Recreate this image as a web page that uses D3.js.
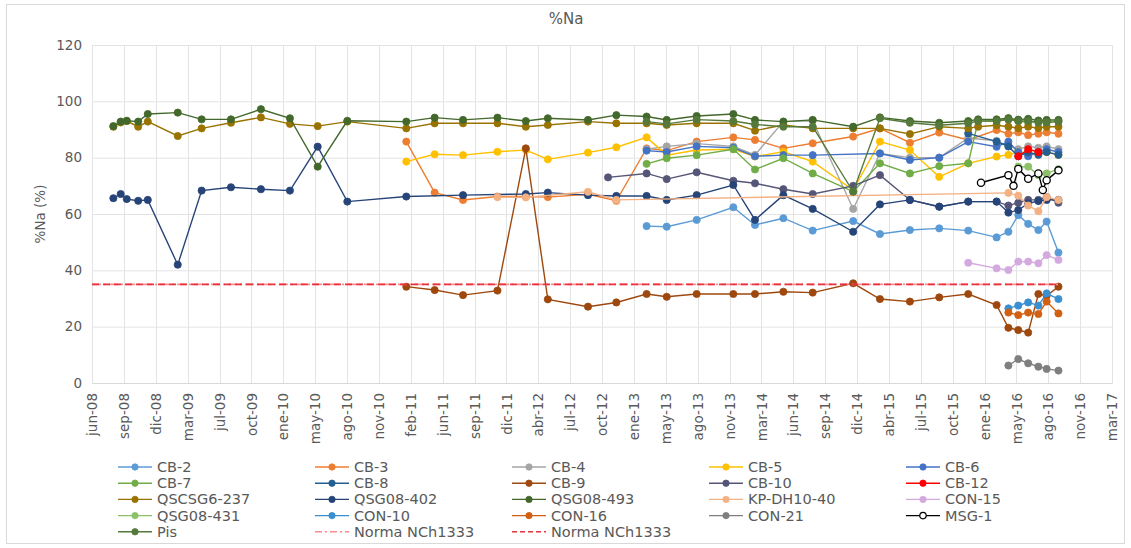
<!DOCTYPE html>
<html><head><meta charset="utf-8">
<script src="https://cdn.jsdelivr.net/npm/d3@7"></script>
<style>body{margin:0;background:#fff}svg{display:block}text{font-family:"DejaVu Sans","Liberation Sans",Arial,sans-serif;fill:#595959}</style>
</head><body><svg id="c" width="1131" height="548"></svg>
<script>
// ---------- DATA ----------
const tickLabels = ["jun-08","sep-08","dic-08","mar-09","jul-09","oct-09","ene-10","may-10","ago-10","nov-10","feb-11","jun-11","sep-11","dic-11","abr-12","jul-12","oct-12","ene-13","may-13","ago-13","nov-13","mar-14","jun-14","sep-14","dic-14","abr-15","jul-15","oct-15","ene-16","may-16","ago-16","nov-16","mar-17"];
const yTicks = [0,20,40,60,80,100,120];

const CB2 = [["2013-03-07",55.7],["2013-05-09",55.5],["2013-08-11",57.9],["2013-12-04",62.4],["2014-02-10",56.1],["2014-05-10",58.5],["2014-08-10",54.1],["2014-12-15",57.5],["2015-03-09",52.9],["2015-06-11",54.3],["2015-09-11",54.9],["2015-12-11",54.1],["2016-03-09",51.7],["2016-04-15",53.7],["2016-05-16",59.6],["2016-06-16",56.5],["2016-07-18",54.3],["2016-08-13",57.3],["2016-09-19",46.3]];
const CB3 = [["2011-02-12",85.7],["2011-05-12",67.6],["2011-08-09",65.0],["2011-11-25",66.2],["2012-02-22",66.2],["2012-05-01",66.0],["2012-09-04",67.0],["2012-12-02",64.7],["2013-03-07",83.3],["2013-05-09",82.5],["2013-08-11",85.7],["2013-12-04",87.2],["2014-02-10",86.3],["2014-05-10",83.3],["2014-08-10",85.1],["2014-12-15",87.5],["2015-03-09",90.4],["2015-06-11",85.3],["2015-09-11",88.9],["2015-12-11",86.3],["2016-03-09",89.8],["2016-04-15",88.5],["2016-05-16",89.0],["2016-06-16",88.0],["2016-07-18",88.5],["2016-08-13",89.0],["2016-09-19",88.5]];
const CB4 = [["2013-03-07",83.0],["2013-05-09",84.0],["2013-08-11",85.0],["2013-12-04",84.0],["2014-02-10",81.0],["2014-05-10",92.8],["2014-08-10",93.1],["2014-12-15",61.8],["2015-03-09",81.5],["2015-06-11",80.0],["2015-09-11",80.0],["2015-12-11",87.0],["2016-03-09",86.0],["2016-04-15",84.0],["2016-05-16",83.0],["2016-06-16",84.0],["2016-07-18",83.5],["2016-08-13",84.0],["2016-09-19",83.0]];
const CB5 = [["2011-02-12",78.6],["2011-05-12",81.2],["2011-08-09",80.9],["2011-11-25",82.1],["2012-02-22",82.7],["2012-05-01",79.4],["2012-09-04",81.8],["2012-12-02",83.7],["2013-03-07",87.2],["2013-05-09",80.9],["2013-08-11",82.7],["2013-12-04",83.0],["2014-02-10",80.4],["2014-05-10",82.1],["2014-08-10",78.6],["2014-12-15",68.5],["2015-03-09",85.7],["2015-06-11",82.7],["2015-09-11",73.2],["2015-12-11",78.0],["2016-03-09",80.4],["2016-04-15",81.0],["2016-05-16",82.0],["2016-06-16",81.0],["2016-07-18",81.5],["2016-08-13",82.0],["2016-09-19",81.0]];
const CB6 = [["2013-03-07",82.5],["2013-05-09",82.0],["2013-08-11",84.0],["2013-12-04",83.5],["2014-02-10",80.5],["2014-05-10",80.9],["2014-08-10",80.9],["2015-03-09",81.5],["2015-06-11",79.2],["2015-09-11",80.0],["2015-12-11",85.7],["2016-03-09",83.9],["2016-04-15",85.7],["2016-05-16",82.0],["2016-06-16",80.5],["2016-07-18",82.0],["2016-08-13",83.0],["2016-09-19",82.0]];
const CB7 = [["2013-03-07",77.8],["2013-05-09",79.8],["2013-08-11",80.9],["2013-12-04",83.0],["2014-02-10",75.8],["2014-05-10",79.8],["2014-08-10",74.4],["2014-12-15",67.9],["2015-03-09",78.0],["2015-06-11",74.4],["2015-09-11",77.0],["2015-12-11",78.0],["2016-01-11",93.0],["2016-03-09",93.0],["2016-04-15",94.0],["2016-05-16",93.0],["2016-06-16",92.5],["2016-07-18",93.0],["2016-08-13",93.0],["2016-09-19",93.0]];
const CB8 = [["2015-12-11",88.6],["2016-03-09",85.7],["2016-04-15",84.0],["2016-05-16",80.5],["2016-06-16",82.0],["2016-07-18",81.0],["2016-08-13",82.0],["2016-09-19",81.0]];
const CB9 = [["2011-02-12",34.2],["2011-05-12",33.0],["2011-08-09",31.2],["2011-11-25",32.8],["2012-02-22",83.3],["2012-05-01",29.7],["2012-09-04",27.1],["2012-12-02",28.6],["2013-03-07",31.6],["2013-05-09",30.6],["2013-08-11",31.6],["2013-12-04",31.6],["2014-02-10",31.6],["2014-05-10",32.4],["2014-08-10",32.1],["2014-12-15",35.4],["2015-03-09",29.8],["2015-06-11",28.9],["2015-09-11",30.4],["2015-12-11",31.6],["2016-03-09",27.7],["2016-04-15",19.6],["2016-05-16",18.8],["2016-06-16",17.9],["2016-07-18",31.6],["2016-08-13",31.0],["2016-09-19",34.2]];
const CB10 = [["2012-11-06",73.0],["2013-03-07",74.4],["2013-05-09",72.4],["2013-08-11",74.8],["2013-12-04",71.8],["2014-02-10",70.9],["2014-05-10",68.8],["2014-08-10",67.1],["2014-12-15",70.0],["2015-03-09",73.8],["2015-06-11",65.0],["2015-09-11",62.6],["2015-12-11",64.4],["2016-03-09",64.4],["2016-04-15",63.0],["2016-05-16",64.0],["2016-06-16",65.0],["2016-07-18",65.0],["2016-08-13",66.0],["2016-09-19",64.0]];
const CB12 = [["2016-05-16",80.5],["2016-06-16",83.0],["2016-07-18",82.0]];
const QSCSG6_237 = [["2008-08-07",91.0],["2008-08-30",92.5],["2008-09-18",93.0],["2008-10-24",91.0],["2008-11-23",92.8],["2009-02-25",87.7],["2009-05-11",90.4],["2009-08-11",92.4],["2009-11-13",94.3],["2010-02-12",92.0],["2010-05-10",91.2],["2010-08-11",92.8],["2011-02-12",90.4],["2011-05-12",92.2],["2011-08-09",92.2],["2011-11-25",92.2],["2012-02-22",91.0],["2012-05-01",91.6],["2012-09-04",92.8],["2012-12-02",92.2],["2013-03-07",92.2],["2013-05-09",91.6],["2013-08-11",92.2],["2013-12-04",92.2],["2014-02-10",89.6],["2014-05-10",91.6],["2014-08-10",90.4],["2014-12-15",90.4],["2015-03-09",90.4],["2015-06-11",88.4],["2015-09-11",91.0],["2015-12-11",90.4],["2016-01-11",91.0],["2016-03-09",91.5],["2016-04-15",91.0],["2016-05-16",90.5],["2016-06-16",91.0],["2016-07-18",90.5],["2016-08-13",91.0],["2016-09-19",91.0]];
const QSG08_402 = [["2008-08-07",65.6],["2008-08-30",67.1],["2008-09-18",65.3],["2008-10-24",64.7],["2008-11-23",65.0],["2009-02-25",42.0],["2009-05-11",68.3],["2009-08-11",69.5],["2009-11-13",68.8],["2010-02-12",68.3],["2010-05-10",83.9],["2010-08-11",64.4],["2011-02-12",66.2],["2011-08-09",66.7],["2012-02-22",67.1],["2012-05-01",67.6],["2012-09-04",66.7],["2012-12-02",66.4],["2013-03-07",66.4],["2013-05-09",65.0],["2013-08-11",66.7],["2013-12-04",70.3],["2014-02-10",57.9],["2014-05-10",66.7],["2014-08-10",61.8],["2014-12-15",53.7],["2015-03-09",63.4],["2015-06-11",65.0],["2015-09-11",62.6],["2015-12-11",64.4],["2016-03-09",64.4],["2016-04-15",60.5],["2016-05-16",61.4],["2016-06-16",63.8],["2016-07-18",64.6],["2016-08-13",65.0],["2016-09-19",65.0]];
const QSG08_493 = [["2008-08-07",91.2],["2008-08-30",92.8],["2008-09-18",93.1],["2008-10-24",92.8],["2008-11-23",95.5],["2009-02-25",96.0],["2009-05-11",93.6],["2009-08-11",93.6],["2009-11-13",97.2],["2010-02-12",94.0],["2010-05-10",76.8],["2010-08-11",93.1],["2011-02-12",92.8],["2011-05-12",94.2],["2011-08-09",93.4],["2011-11-25",94.2],["2012-02-22",93.0],["2012-05-01",94.0],["2012-09-04",93.4],["2012-12-02",95.1],["2013-03-07",94.6],["2013-05-09",93.4],["2013-08-11",94.8],["2013-12-04",95.5],["2014-02-10",93.4],["2014-05-10",92.8],["2014-08-10",93.4],["2014-12-15",91.0],["2015-03-09",94.3],["2015-06-11",93.0],["2015-09-11",92.4],["2015-12-11",93.0],["2016-01-11",93.6],["2016-03-09",93.6],["2016-04-15",94.0],["2016-05-16",93.5],["2016-06-16",93.8],["2016-07-18",93.2],["2016-08-13",93.4],["2016-09-19",93.4]];
const KP_DH10_40 = [["2011-11-25",66.0],["2012-02-22",65.9],["2012-09-04",67.9],["2012-12-02",65.0],["2016-04-15",67.5],["2016-05-16",66.5],["2016-06-16",63.0],["2016-07-18",61.0],["2016-08-13",66.0],["2016-09-19",65.0]];
const CON15 = [["2015-12-11",42.7],["2016-03-09",40.7],["2016-04-15",40.1],["2016-05-16",43.1],["2016-06-16",43.1],["2016-07-18",42.5],["2016-08-13",45.4],["2016-09-19",43.7]];
const QSG08_431 = [["2016-05-16",76.8],["2016-06-16",76.8],["2016-07-18",73.8],["2016-08-13",74.4],["2016-09-19",75.9]];
const CON10 = [["2016-04-15",26.5],["2016-05-16",27.5],["2016-06-16",28.6],["2016-07-18",27.5],["2016-08-13",31.8],["2016-09-19",29.8]];
const CON16 = [["2016-04-15",25.0],["2016-05-16",24.1],["2016-06-16",25.0],["2016-07-18",24.5],["2016-08-13",28.9],["2016-09-19",24.7]];
const CON21 = [["2016-04-15",6.2],["2016-05-16",8.5],["2016-06-16",7.0],["2016-07-18",5.8],["2016-08-13",5.0],["2016-09-19",4.4]];
const MSG1 = [["2016-01-20",71.1],["2016-04-15",73.8],["2016-05-01",70.0],["2016-05-16",76.0],["2016-06-16",72.5],["2016-07-18",74.4],["2016-08-01",68.5],["2016-08-13",72.0],["2016-09-19",75.5]];
const Pis = [["2013-03-07",92.8],["2013-05-09",92.0],["2013-08-11",93.5],["2013-12-04",93.0],["2014-02-10",91.8],["2014-05-10",91.0],["2014-08-10",91.0],["2014-12-15",67.9],["2015-03-09",94.0],["2015-06-11",92.4],["2015-09-11",91.5],["2015-12-11",92.2],["2016-01-11",93.0],["2016-03-09",93.0],["2016-04-15",93.5],["2016-05-16",93.0],["2016-06-16",93.0],["2016-07-18",92.5],["2016-08-13",92.5],["2016-09-19",92.8]];
const Norma1 = [["2008-06-01",35],["2016-09-19",35]];
const Norma2 = [["2008-06-01",35],["2016-09-19",35]];

// ---------- SERIES CONFIG (styles) ----------
const series = [
 {name:"CB-2",data:CB2,color:"#5B9BD5"},
 {name:"CB-3",data:CB3,color:"#ED7D31"},
 {name:"CB-4",data:CB4,color:"#A5A5A5"},
 {name:"CB-5",data:CB5,color:"#FFC000"},
 {name:"CB-6",data:CB6,color:"#4472C4"},
 {name:"CB-7",data:CB7,color:"#70AD47"},
 {name:"CB-8",data:CB8,color:"#255E91"},
 {name:"CB-9",data:CB9,color:"#9E480E"},
 {name:"CB-10",data:CB10,color:"#555577"},
 {name:"CB-12",data:CB12,color:"#FF0000"},
 {name:"QSCSG6-237",data:QSCSG6_237,color:"#997300"},
 {name:"QSG08-402",data:QSG08_402,color:"#264478"},
 {name:"QSG08-493",data:QSG08_493,color:"#43682B"},
 {name:"KP-DH10-40",data:KP_DH10_40,color:"#F4B183"},
 {name:"CON-15",data:CON15,color:"#D4A9E0"},
 {name:"QSG08-431",data:QSG08_431,color:"#8CC168"},
 {name:"CON-10",data:CON10,color:"#3A8FD0"},
 {name:"CON-16",data:CON16,color:"#D26012"},
 {name:"CON-21",data:CON21,color:"#7F7F7F"},
 {name:"MSG-1",data:MSG1,color:"#000000",open:true},
 {name:"Pis",data:Pis,color:"#55793A"},
 {name:"Norma NCh1333",data:Norma1,color:"#FF8A8F",dash:"9,3,2,3",noMarker:true},
 {name:"Norma NCh1333",data:Norma2,color:"#E8333F",dash:"7,4",noMarker:true}
];

// ---------- CHART ----------
const svg = d3.select("#c");
const parse = d3.utcParse("%Y-%m-%d");
const t0 = parse("2008-06-01");
const tickDates = tickLabels.map((l,i)=>d3.utcDay.offset(t0,100*i));
const x = d3.scaleUtc().domain([tickDates[0],tickDates[tickDates.length-1]]).range([92,1112]);
const y = d3.scaleLinear().domain([0,120]).range([383,45]);

svg.append("rect").attr("x",6.5).attr("y",4.5).attr("width",1118).attr("height",539)
  .attr("fill","#fff").attr("stroke","#D9D9D9");

// gridlines
svg.append("g").selectAll("line.h").data(yTicks).join("line")
  .attr("x1",x.range()[0]).attr("x2",x.range()[1]).attr("y1",d=>y(d)+0.5).attr("y2",d=>y(d)+0.5)
  .attr("stroke","#E3E3E3");
svg.append("g").selectAll("line.v").data(tickDates).join("line")
  .attr("x1",d=>Math.round(x(d))+0.5).attr("x2",d=>Math.round(x(d))+0.5).attr("y1",y(120)).attr("y2",y(0))
  .attr("stroke","#E3E3E3");

// axes
const yAxis = d3.axisLeft(y).tickValues(yTicks).tickSize(0).tickPadding(10);
const gy = svg.append("g").attr("transform",`translate(${x.range()[0]},0)`).call(yAxis);
gy.select(".domain").remove();
gy.selectAll("text").style("font-size","13.5px").style("fill","#595959")
  .style("font-family","'DejaVu Sans','Liberation Sans',Arial,sans-serif");

const xAxis = d3.axisBottom(x).tickValues(tickDates).tickSize(0).tickPadding(8)
  .tickFormat((d,i)=>tickLabels[i]);
const gx = svg.append("g").attr("transform",`translate(0,${y(0)})`).call(xAxis);
gx.select(".domain").attr("stroke","#D9D9D9");
gx.selectAll("text").style("font-size","13.5px").style("fill","#595959")
  .style("font-family","'DejaVu Sans','Liberation Sans',Arial,sans-serif")
  .attr("text-anchor","end").attr("transform","rotate(-90)")
  .attr("x",-10).attr("y",0).attr("dy","0.35em");

// lines + markers
const line = d3.line().x(d=>x(parse(d[0]))).y(d=>y(d[1]));
const plot = svg.append("g");
series.forEach(s=>{
  const g = plot.append("g");
  g.append("path").attr("d",line(s.data)).attr("fill","none").attr("stroke",s.color)
    .attr("stroke-width",s.noMarker?1.6:1.4).attr("stroke-dasharray",s.dash||null);
  if(!s.noMarker){
    g.selectAll("circle").data(s.data).join("circle")
      .attr("cx",d=>x(parse(d[0]))).attr("cy",d=>y(d[1])).attr("r",3.6)
      .attr("fill",s.open?"#fff":s.color).attr("stroke",s.color).attr("stroke-width",s.open?1.3:0.8);
  }
});

// titles
svg.append("text").attr("x",566).attr("y",24).attr("text-anchor","middle")
  .style("font-size","15px").text("%Na");
svg.append("text").attr("transform",`translate(45,${(y(0)+y(120))/2}) rotate(-90)`)
  .attr("text-anchor","middle").style("font-size","13.5px").text("%Na (%)");

// legend
const leg = svg.append("g");
series.forEach((s,i)=>{
  const col = i%5, row = Math.floor(i/5);
  const lx = 118 + col*197, ly = 467 + row*16.2;
  const g = leg.append("g").attr("transform",`translate(${lx},${ly})`);
  g.append("line").attr("x1",0).attr("x2",34).attr("y1",0).attr("y2",0)
    .attr("stroke",s.color).attr("stroke-width",1.4).attr("stroke-dasharray",s.dash?(s.dash==="7,4"?"5,3":"7,3,2,3"):null);
  if(!s.noMarker) g.append("circle").attr("cx",17).attr("cy",0).attr("r",3.2)
    .attr("fill",s.open?"#fff":s.color).attr("stroke",s.color).attr("stroke-width",s.open?1.2:0.8);
  g.append("text").attr("x",39).attr("y",0).attr("dy","0.35em").style("font-size","14.5px").text(s.name);
});
</script></body></html>
